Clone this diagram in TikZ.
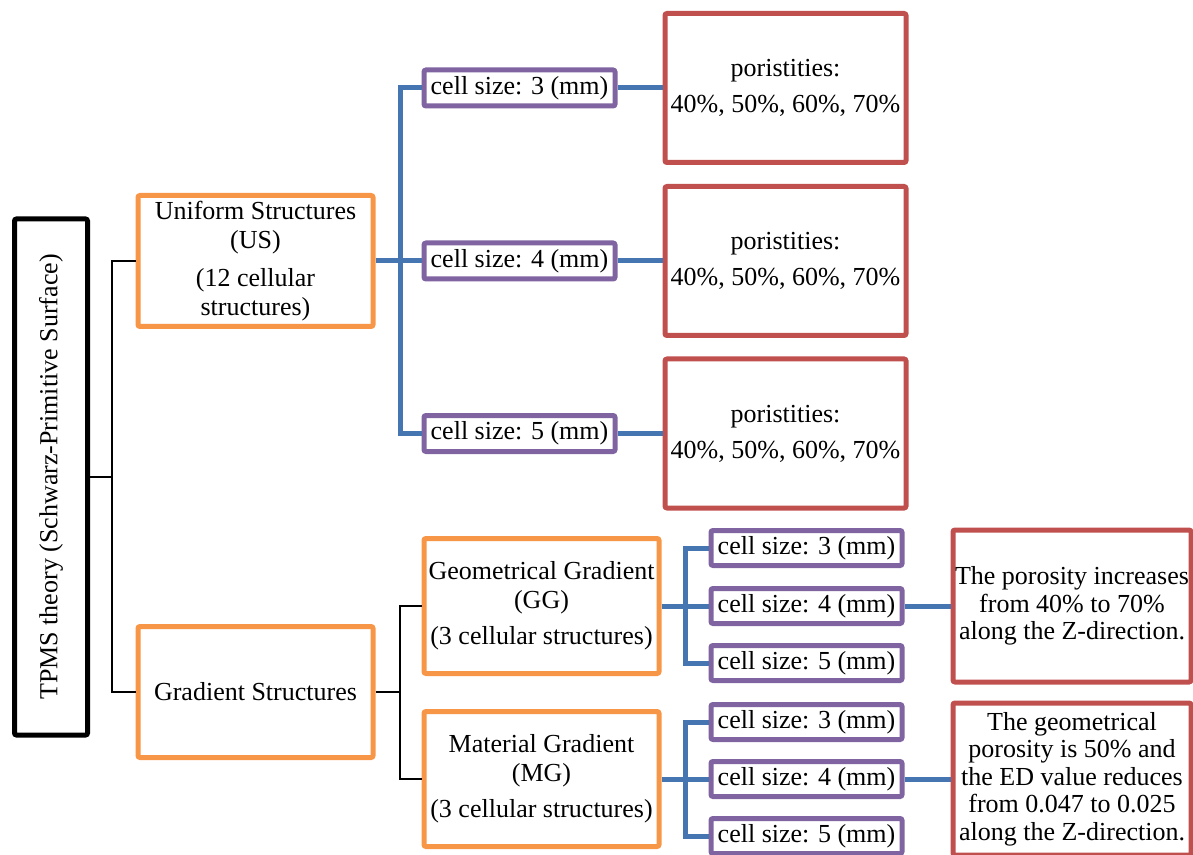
\documentclass[tikz,border=0pt]{standalone}
\usepackage{fontspec}
\setmainfont{Liberation Serif}
\usepackage{graphicx}
\usepackage{tikz}
\usetikzlibrary{positioning}
\definecolor{grouporange}{RGB}{247,150,70}
\definecolor{cellpurple}{RGB}{128,100,162}
\definecolor{porored}{RGB}{192,80,77}
\definecolor{linkblue}{RGB}{70,118,178}

\begin{document}
\begin{tikzpicture}[
  x=0.5pt, y=-0.5pt,
  font=\fontsize{13}{14.5}\selectfont,
  box/.style={draw, line width=2.5pt, rounded corners=1pt, inner sep=0pt,
              align=center, fill=white},
  root/.style={box, draw=black, minimum width=36.5pt, minimum height=258pt},
  group/.style={box, draw=grouporange, minimum width=117.5pt, minimum height=65.5pt},
  cell/.style={box, draw=cellpurple, minimum width=95.5pt, minimum height=18pt},
  poro/.style={box, draw=porored, minimum width=120.5pt, minimum height=74.5pt},
  blk/.style={draw=black, line width=1pt},
  blu/.style={draw=linkblue, line width=2.5pt},
]
  \useasboundingbox (0,0) rectangle (1193,855);
  \clip (0,0) rectangle (1193,855);

  % left column
  \node[root] (tpms) at (51,477)
    {\rotatebox{90}{TPMS theory (Schwarz-Primitive Surface)}};
  \node[group] (us) at (255.5,261)
    {Uniform Structures\\(US)\\[4.5pt](12 cellular\\structures)};
  \node[group] (gs) at (255.5,692) {Gradient Structures};
  \coordinate (j0) at (112,477);

  % uniform branch
  \node[cell] (u3) at (519.5,88) {cell size: 3 (mm)};
  \node[cell] (u4) at (519.5,261) {cell size: 4 (mm)};
  \node[cell] (u5) at (519.5,433.5) {cell size: 5 (mm)};
  \foreach \i in {3,4,5}
    \node[poro, right=22.5pt of u\i] (p\i)
      {poristities:\\[3.5pt]40\%, 50\%, 60\%, 70\%};
  \coordinate (j1) at (400,261);

  % gradient branch
  \node[group, minimum height=67.5pt] (gg) at (541.5,606)
    {Geometrical Gradient\\(GG)\\[3.5pt](3 cellular structures)};
  \node[group, minimum height=67.5pt] (mg) at (541.5,779)
    {Material Gradient\\(MG)\\[3.5pt](3 cellular structures)};
  \node[cell, minimum height=17.5pt] (g3) at (806.5,548) {cell size: 3 (mm)};
  \node[cell, minimum height=17.5pt] (g4) at (806.5,606) {cell size: 4 (mm)};
  \node[cell, minimum height=17.5pt] (g5) at (806.5,663) {cell size: 5 (mm)};
  \node[cell, minimum height=17.5pt] (m3) at (806.5,722) {cell size: 3 (mm)};
  \node[cell, minimum height=17.5pt] (m4) at (806.5,779) {cell size: 4 (mm)};
  \node[cell, minimum height=17.5pt] (m5) at (806.5,836) {cell size: 5 (mm)};
  \node[poro, minimum width=119pt, minimum height=76pt, right=23pt of g4,
        font=\fontsize{13}{13.75}\selectfont] (rg)
    {The porosity increases\\from 40\% to 70\%\\along the Z-direction.};
  \node[poro, minimum width=119pt, minimum height=76pt, right=23pt of m4,
        font=\fontsize{13}{13.75}\selectfont] (rm)
    {The geometrical\\porosity is 50\% and\\the ED value reduces\\from 0.047 to 0.025\\along the Z-direction.};
  \coordinate (j2) at (400,692);
  \coordinate (j3) at (685,606);
  \coordinate (j4) at (685,779);

  % connectors
  \draw[blk] (tpms.east) -- (j0);
  \draw[blk] (us.west) -| (j0) |- (gs.west);
  \draw[blu] (us.east) -- (u4.west);
  \draw[blu] (u3.west) -| (j1) |- (u5.west);
  \foreach \i in {3,4,5}
    \draw[blu] (u\i.east) -- (p\i.west);
  \draw[blk] (gs.east) -- (j2);
  \draw[blk] (gg.west) -| (j2) |- (mg.west);
  \draw[blu] (gg.east) -- (g4.west);
  \draw[blu] (g3.west) -| (j3) |- (g5.west);
  \draw[blu] (mg.east) -- (m4.west);
  \draw[blu] (m3.west) -| (j4) |- (m5.west);
  \draw[blu] (g4.east) -- (rg.west);
  \draw[blu] (m4.east) -- (rm.west);
\end{tikzpicture}
\end{document}
